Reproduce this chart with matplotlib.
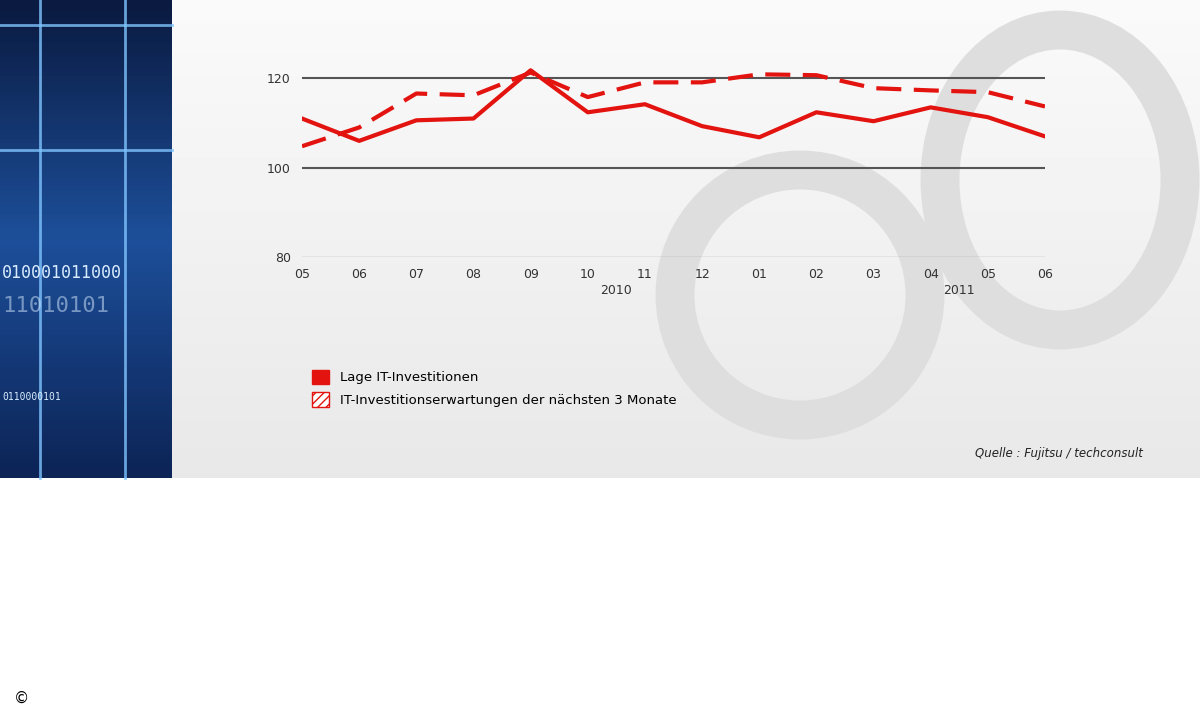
import matplotlib.pyplot as plt
import numpy as np
from matplotlib.patches import Patch, Ellipse
from matplotlib.colors import LinearSegmentedColormap

months = ["05", "06", "07", "08", "09", "10", "11", "12", "01", "02", "03", "04", "05", "06"]
lage = [111, 106, 110.6, 111, 121.8, 112.4, 114.2, 109.3, 106.8, 112.4, 110.4, 113.5, 111.3, 107]
erwartung = [104.8, 109, 116.6, 116.2, 121.3, 115.8, 119.1, 119.1, 120.9, 120.7, 117.8, 117.3, 116.9, 113.7]
years = [("2010", 5.5), ("2011", 11.5)]
RED = "#e3130f"

fig = plt.figure(figsize=(12, 7.2), dpi=100)
bg = fig.add_axes([0, 0, 1, 1])
bg.set_xlim(0, 1200)
bg.set_ylim(720, 0)
bg.axis("off")

# gray gradient panel
grad = np.linspace(0, 1, 100).reshape(-1, 1)
bg.imshow(0.98 - 0.07 * grad, cmap="gray", vmin=0, vmax=1, aspect="auto",
          extent=(172, 1200, 478, 0), zorder=0)
# dark blue decorative panel
navy = LinearSegmentedColormap.from_list("navy", ["#0a1a40", "#1d4f9a", "#0c2456"])
bg.imshow(grad, cmap=navy, aspect="auto", extent=(0, 172, 478, 0), zorder=0)
for x in (40, 125):
    bg.plot([x, x], [0, 478], color="#7fc4ff", lw=2, alpha=0.8)
for y in (25, 150):
    bg.plot([0, 172], [y, y], color="#7fc4ff", lw=2, alpha=0.8)
bg.text(2, 278, "010001011000", color="#d8ecff", fontsize=12, family="DejaVu Sans Mono")
bg.text(2, 312, "11010101", color="#d8ecff", fontsize=16, alpha=0.5, family="DejaVu Sans Mono")
bg.text(2, 400, "0110000101", color="#d8ecff", fontsize=7, family="DejaVu Sans Mono")
# infinity logo
bg.add_patch(Ellipse((800, 295), 250, 250, fill=False, lw=28, ec="#dedede", zorder=1))
bg.add_patch(Ellipse((1060, 180), 240, 300, fill=False, lw=28, ec="#dedede", zorder=1))
bg.text(22, 698, "©", fontsize=11, ha="center", va="center")

ax = fig.add_axes([302 / 1200, 1 - 257 / 720, 743 / 1200, 201 / 720])
ax.patch.set_alpha(0)
x = np.arange(len(months))
ax.plot(x, lage, color=RED, lw=3, zorder=3)
ax.plot(x, erwartung, color=RED, lw=3, dashes=(6, 3), zorder=3)
ax.set_xlim(0, len(months) - 1)
ax.set_ylim(80, 125)
ax.set_yticks([80, 100, 120])
ax.set_xticks(x, months)
for v in (100, 120):
    ax.axhline(v, color="#555555", lw=1.5, zorder=2)
ax.axhline(80, color="#aaaaaa", lw=1, zorder=2)
for s in ax.spines.values():
    s.set_visible(False)
ax.tick_params(length=0, labelsize=9, colors="#333333", pad=8)
for label, pos in years:
    ax.text(pos, 72.5, label, ha="center", va="center", fontsize=9, color="#333333")

handles = [Patch(facecolor=RED, edgecolor=RED),
           Patch(facecolor="white", edgecolor=RED, hatch="////")]
fig.legend(handles, ["Lage IT-Investitionen",
                     "IT-Investitionserwartungen der nächsten 3 Monate"],
           loc="upper left", bbox_to_anchor=(300 / 1200, 1 - 358 / 720),
           frameon=False, fontsize=9.5, handlelength=1.3, handleheight=1.3,
           labelspacing=0.6)
bg.text(1143, 454, "Quelle : Fujitsu / techconsult", ha="right", va="center",
        fontsize=8.5, style="italic", color="#222222")

fig.savefig("out.png", dpi=100)
